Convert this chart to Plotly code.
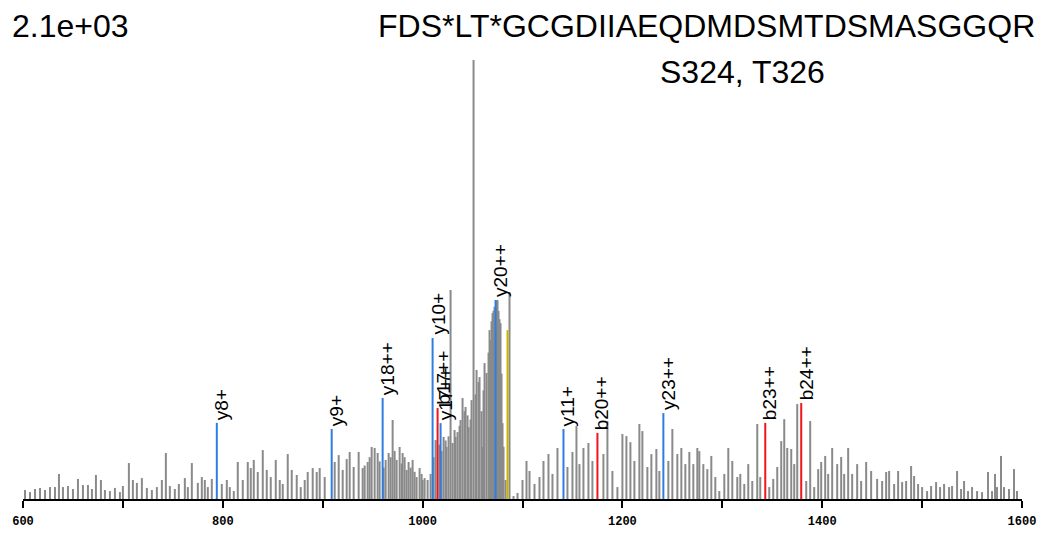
import plotly.graph_objects as go

# ---- data -------------------------------------------------------------
peak_mz = [602, 607, 612, 617, 622, 627, 632, 636, 640, 645, 650, 655, 660, 665, 669, 673, 678, 682, 687, 692,
           697, 700, 706, 710, 714, 719, 724, 729, 734, 739, 743, 747, 752, 756, 762, 765, 769, 775, 779, 782,
           785, 789, 799, 804, 807, 811, 815, 820, 825, 828, 831, 835, 840, 844, 848, 853, 857, 860, 865, 869,
           874, 878, 882, 885, 890, 894, 897, 902, 912, 916, 920, 924, 927, 931, 936, 940, 945, 949, 952, 955,
           963, 966, 970, 974, 977, 980, 984, 986, 990, 994, 997, 1000, 1005, 1013, 1021, 1024, 1028, 1030, 1033, 1035,
           1038, 1040, 1043, 1046, 1049, 1051, 1054, 1057, 1060, 1062, 1064, 1067, 1070, 1075, 1078, 1080, 1083, 1087, 1091, 1095,
           1100, 1104, 1107, 1112, 1117, 1121, 1126, 1130, 1135, 1145, 1150, 1154, 1157, 1161, 1166, 1170, 1181, 1185, 1190, 1195,
           1200, 1204, 1208, 1212, 1217, 1220, 1225, 1229, 1234, 1237, 1246, 1250, 1255, 1259, 1263, 1267, 1271, 1275, 1277, 1281,
           1285, 1289, 1293, 1297, 1302, 1306, 1310, 1315, 1318, 1322, 1326, 1330, 1335, 1338, 1347, 1351, 1355, 1359, 1362, 1365,
           1369, 1372, 1375, 1384, 1388, 1392, 1396, 1399, 1403, 1406, 1410, 1415, 1419, 1422, 1426, 1430, 1435, 1439, 1444, 1449,
           1455, 1460, 1464, 1467, 1472, 1476, 1480, 1484, 1489, 1492, 1496, 1500, 1505, 1509, 1514, 1518, 1522, 1527, 1530, 1535,
           1539, 1542, 1546, 1550, 1555, 1560, 1566, 1570, 1573, 1575, 1579, 1582, 1587, 1592, 1595,
           # denser peaks in the crowded 940-1085 region
           942, 947, 957, 961, 968, 972, 979, 982, 988, 992, 999, 1002, 1008, 1011, 1017, 1019, 1023, 1026, 1032, 1037,
           1042, 1045, 1048, 1053, 1056, 1059, 1061, 1066, 1068, 1069, 1071, 1072, 1074, 1076, 1077, 1079, 1081]
peak_int = [43, 33, 48, 53, 43, 57, 57, 120, 57, 62, 48, 96, 67, 67, 48, 115, 91, 43, 38, 53,
            33, 62, 172, 91, 77, 100, 53, 43, 57, 91, 220, 62, 48, 72, 100, 57, 172, 77, 105, 91,
            57, 96, 72, 91, 57, 38, 177, 91, 177, 148, 187, 129, 234, 139, 105, 187, 91, 72, 215, 139,
            115, 57, 91, 129, 148, 129, 148, 105, 177, 210, 139, 191, 225, 153, 225, 148, 177, 249, 244, 220,
            187, 220, 378, 187, 249, 220, 139, 177, 187, 105, 148, 91, 91, 282, 297, 249, 1000, 268, 297, 320,
            378, 483, 440, 344, 473, 2100, 617, 583, 249, 650, 603, 808, 889, 952, 841, 363, 91, 990, 14, 29,
            91, 182, 134, 72, 105, 182, 215, 120, 244, 153, 225, 349, 167, 244, 268, 182, 215, 373, 134, 57,
            311, 301, 272, 182, 359, 325, 153, 215, 239, 134, 182, 335, 215, 244, 167, 225, 167, 244, 229, 167,
            143, 206, 105, 38, 120, 244, 182, 105, 120, 72, 167, 86, 359, 105, 57, 96, 153, 277, 382, 244,
            239, 167, 454, 86, 373, 57, 143, 177, 206, 120, 244, 167, 201, 120, 244, 120, 167, 86, 177, 134,
            96, 86, 129, 134, 72, 134, 81, 86, 158, 110, 72, 57, 38, 62, 81, 57, 72, 57, 62, 134,
            48, 86, 38, 57, 38, 33, 129, 38, 120, 57, 206, 57, 48, 143, 38,
            160, 200, 180, 150, 200, 230, 170, 200, 150, 130, 120, 100, 120, 200, 260, 230, 280, 300, 330, 350,
            420, 400, 380, 500, 560, 420, 520, 700, 760, 850, 900, 920, 950, 900, 860, 600, 250]

ion_labels = ["y8+", "y9+", "y18++", "y10+", "b17++", "y17++", "y20++", "y11+", "b20++", "y23++", "b23++", "b24++"]
ion_mz = [794, 909, 960, 1010, 1015, 1018, 1073, 1141, 1175, 1241, 1343, 1379]
ion_int = [364, 335, 483, 770, 435, 363, 952, 335, 316, 411, 364, 459]

precursor_mz = [1085]
precursor_int = [808]

x_ticks = [600, 800, 1000, 1200, 1400, 1600]
max_label = "2.1e+03"
peptide = "FDS*LT*GCGDIIAEQDMDSMTDSMASGGQR"
sites = "S324, T326"

# ---- figure -----------------------------------------------------------
def sticks(mz, inten):
    xs, ys = [], []
    for m, i in zip(mz, inten):
        xs += [m, m, None]
        ys += [0, i, None]
    return xs, ys

fig = go.Figure()
gx, gy = sticks(peak_mz, peak_int)
fig.add_trace(go.Scatter(x=gx, y=gy, mode="lines", line=dict(color="#8a8a8a", width=2),
                         hoverinfo="skip", showlegend=False))

ion_colors = {"y": "#2f7de1", "b": "#f0151c"}
for kind in ["y", "b"]:
    mz = [m for m, l in zip(ion_mz, ion_labels) if l.startswith(kind)]
    it = [i for i, l in zip(ion_int, ion_labels) if l.startswith(kind)]
    x, y = sticks(mz, it)
    fig.add_trace(go.Scatter(x=x, y=y, mode="lines", line=dict(color=ion_colors[kind], width=2),
                             hoverinfo="skip", showlegend=False))

px_, py_ = sticks(precursor_mz, precursor_int)
fig.add_trace(go.Scatter(x=px_, y=py_, mode="lines", line=dict(color="#c9b400", width=2),
                         hoverinfo="skip", showlegend=False))

for lab, m, i in zip(ion_labels, ion_mz, ion_int):
    fig.add_annotation(x=m, y=i, text=lab, textangle=-90, showarrow=False,
                       xanchor="center", yanchor="bottom", xshift=5, yshift=1,
                       font=dict(family="Liberation Sans, Arial, sans-serif", size=19, color="black"))

title_font = dict(family="Liberation Sans, Arial, sans-serif", size=32, color="black")
fig.add_annotation(xref="paper", yref="paper", x=-0.013, y=1.077, text=max_label, showarrow=False,
                   xanchor="left", yanchor="middle", font=title_font)
fig.add_annotation(xref="paper", yref="paper", x=1.015, y=1.077, text=peptide, showarrow=False,
                   xanchor="right", yanchor="middle", font=title_font)
fig.add_annotation(xref="paper", yref="paper", x=0.7207, y=0.973, text=sites, showarrow=False,
                   xanchor="center", yanchor="middle", font=title_font)

# the page body adds an 8 px offset, compensated in the margins
fig.update_layout(
    width=1059, height=540,
    margin=dict(l=15, r=45, t=52, b=49),
    paper_bgcolor="white", plot_bgcolor="white",
    showlegend=False,
    xaxis=dict(range=[600, 1600], tickvals=x_ticks, ticktext=[str(t) for t in x_ticks],
               showgrid=False, zeroline=False, showline=True, linecolor="black", linewidth=2,
               ticks="outside", ticklen=7, tickwidth=2, tickcolor="black", ticklabelstandoff=3,
               minor=dict(dtick=100, tick0=600, ticks="outside", ticklen=7, tickwidth=2, tickcolor="black"),
               tickfont=dict(family="Liberation Mono, Courier New, monospace", size=12, color="black", weight="bold"),
               fixedrange=True, automargin=False),
    yaxis=dict(range=[0, 2100], visible=False, showgrid=False, zeroline=False, fixedrange=True),
)

fig.write_html("out.html")
